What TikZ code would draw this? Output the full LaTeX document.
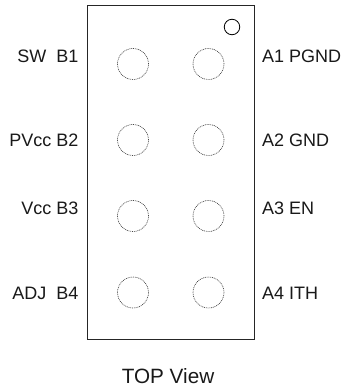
\documentclass[tikz,border=0pt]{standalone}
\usepackage{fontspec}
\setmainfont{Liberation Sans}
\tikzset{
  pin/.style={circle,draw=black!80,line width=0.6pt,dash pattern=on 0.9pt off 0.9pt,minimum size=31pt,inner sep=0pt},
  lab/.style={inner sep=0pt,font=\fontsize{18pt}{20pt}\selectfont,text=black!90},
  pack/.style={draw=black!85,line width=1pt,fill=white}
}
\begin{document}
\begin{tikzpicture}[x=1pt,y=-1pt]
\useasboundingbox (0,0) rectangle (344,390);
\fill[white] (0,0) rectangle (344,390);
\draw[pack] (87,5.5) rectangle (254.5,339);
\node[circle,draw=black,line width=0.8pt,minimum size=15.5pt,inner sep=0pt] (mark) at (232,27) {};
\foreach \n/\y in {1/64,2/140,3/216,4/292.5}{
  \node[pin] (b\n) at (133,\y) {};
  \node[pin] (a\n) at (208.5,\y) {};
}
\node[lab,anchor=base east] (lb1) at (78.5,63) {SW\ \ B1};
\node[lab,anchor=base east] (lb2) at (78.5,146.5) {PVcc B2};
\node[lab,anchor=base east] (lb3) at (78.5,214) {Vcc B3};
\node[lab,anchor=base east] (lb4) at (78.5,299) {ADJ\ \ B4};
\node[lab,anchor=base west] (la1) at (262,63) {A1 PGND};
\node[lab,anchor=base west] (la2) at (262,146.5) {A2 GND};
\node[lab,anchor=base west] (la3) at (262,214) {A3 EN};
\node[lab,anchor=base west] (la4) at (262,299) {A4 ITH};
\node[lab,font=\fontsize{20.7pt}{22pt}\selectfont,anchor=base] (top) at (168,383) {TOP View};
\end{tikzpicture}
\end{document}
